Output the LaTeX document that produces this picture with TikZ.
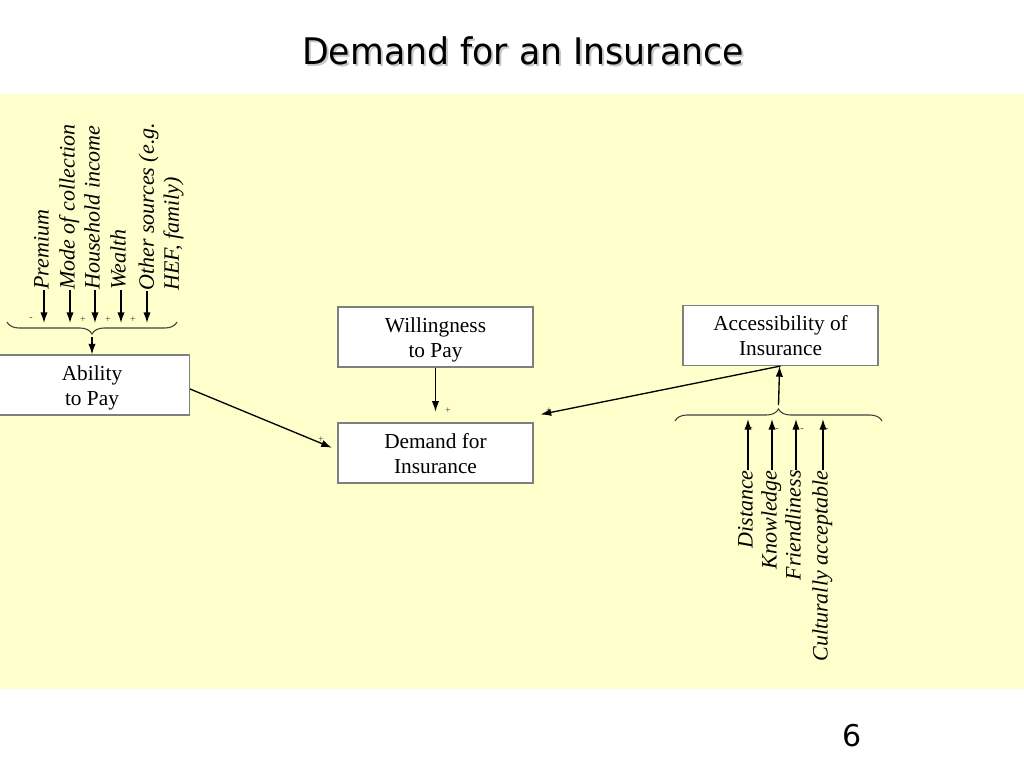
\documentclass[tikz,border=0pt]{standalone}
\usepackage{fontspec}
\setmainfont{Liberation Serif}
\newfontfamily\slidefont{DejaVu Sans}
\usetikzlibrary{arrows.meta,positioning,calc,decorations.pathreplacing}
\definecolor{slideyellow}{HTML}{FFFFCC}
\definecolor{boxgray}{HTML}{7F7F7F}
\newcommand{\boxstrut}{\rule{0pt}{17.5pt}}

\tikzset{
  >={Latex[length=8pt,width=5.5pt]},
  factorbox/.style={draw=boxgray, line width=0.8pt, fill=white, minimum width=146.25pt,
    minimum height=45pt, inner sep=0pt, align=center, font=\fontsize{16}{18.75}\selectfont},
  factor/.style={rotate=90, inner sep=0pt, text height=0.7em, text depth=0em,
    font=\fontsize{16.5}{18.75}\selectfont\itshape},
  sign/.style={inner sep=0pt, text=black!75, font=\fontsize{7.5}{8}\selectfont},
  link/.style={->, line width=1pt},
  bracedown/.style={decorate, decoration={brace, mirror, amplitude=9pt}, line width=0.8pt, draw=black!75},
  braceup/.style={decorate, decoration={brace, amplitude=9pt}, line width=0.8pt, draw=black!75},
}

\begin{document}
\begin{tikzpicture}[x=0.75pt,y=-0.75pt]
	\useasboundingbox (0,0) rectangle (1024,768);
	\fill[white] (0,0) rectangle (1024,768);
	\fill[slideyellow] (0,94) rectangle (1024,689);

	% title with shadow
	\node[anchor=base, text=black!22] (shadow) at (525,66) {\slidefont\fontsize{27.5}{33}\selectfont\scalebox{0.947}[1]{Demand for an Insurance}};
	\node[anchor=base] (title) at (523,64) {\slidefont\fontsize{27.5}{33}\selectfont\scalebox{0.947}[1]{Demand for an Insurance}};
	\node[anchor=base] (page) at (852,746) {\slidefont\fontsize{22.5}{27}\selectfont 6};

	% boxes
	\node[factorbox] (ability) at (92,385) {\boxstrut Ability\\to Pay\strut};
	\node[factorbox] (willing) at (435.5,337) {\boxstrut Willingness\\to Pay\strut};
	\node[factorbox] (demand) at (435.5,453) {\boxstrut Demand for\\Insurance\strut};
	\node[factorbox] (access) at (780.5,335.5) {\boxstrut Accessibility of\\Insurance\strut};

	% factors of ability to pay
	\foreach \x/\name/\txt in {44/premium/Premium, 70/mode/Mode of collection, 95/income/Household income, 121/wealth/Wealth}{
		\node[factor, anchor=west] (\name) at (\x,290) {\txt};
		\coordinate (\name-in) at (\x,323);
		\draw[link] (\name) -- (\name-in);
	}
	\node[rotate=90, inner sep=0pt, align=left, anchor=west, font=\fontsize{16.5}{18.75}\selectfont\itshape] (other) at (161,291) {Other sources (e.g.\\HEF, family)};
	\coordinate (other-out) at (147,291);
	\coordinate (other-in) at (147,323);
	\draw[link] (other-out) -- (other-in);

	\node[sign] (s1) at (31,319) {-};
	\node[sign] (s2) at (83,320) {+};
	\node[sign] (s3) at (108,320) {+};
	\node[sign] (s4) at (133,320) {+};

	\draw[bracedown] (7,322) -- (177,322);
	\coordinate (abilitytip) at (92,337);
	\draw[link] (abilitytip) -- (ability);

	% factors of accessibility
	\foreach \x/\name/\txt in {748/distance/Distance, 772/knowledge/Knowledge, 796/friendly/Friendliness, 823/culture/Culturally acceptable}{
		\node[factor, anchor=east] (\name) at (\x,470) {\txt};
		\coordinate (\name-in) at (\x,419);
		\draw[link] (\name) -- (\name-in);
	}
	\node[sign] (m1) at (751,429) {-};
	\node[sign] (m2) at (777,430) {-};
	\node[sign] (m3) at (802,430) {-};
	\node[sign] (m4) at (827,430) {-};

	\draw[braceup] (675,421) -- (882,421);
	\coordinate (accesstip) at (778.5,405);
	\draw[link] (accesstip) -- (access);

	% into demand
	\draw[link, shorten >=8pt] (willing) -- (demand);
	\draw[link, shorten >=4.5pt] ($(ability.east)+(0,4)$) -- ($(demand.west)+(0,-3)$);
	\draw[link] (access.south) -- ($(demand.north east)+(7,-8)$);
	\node[sign] (p1) at (448,411) {+};
	\node[sign] (p2) at (321,440) {+};
	\node[sign] (p3) at (549,411) {+};

\end{tikzpicture}
\end{document}
